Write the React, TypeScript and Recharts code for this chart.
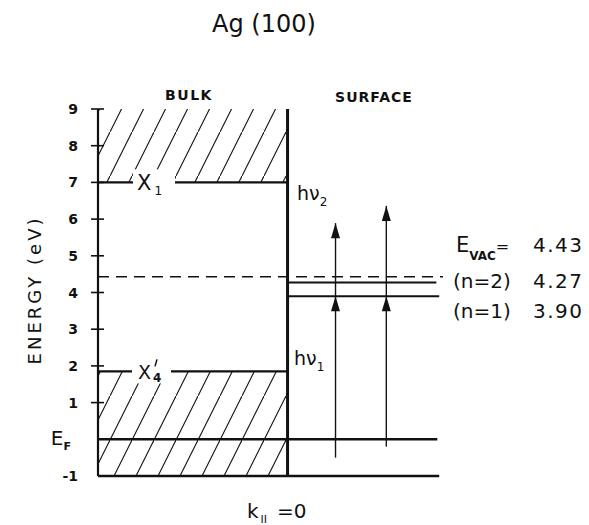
import React from "react";
import { ComposedChart, Line, XAxis, YAxis, ReferenceLine, ReferenceArea } from "recharts";

// energy axis (eV)
const energyTicks = [-1, 0, 1, 2, 3, 4, 5, 6, 7, 8, 9];
// k-axis: bulk occupies 0..1, surface side runs on to the right
const kBulkEdge = 1;
const kMax = 1.82;
const kLevelEnds = [1.79, 1.8]; // E_F, band bottom
const kImageEnds = [1.785, 1.8]; // n=2, n=1

const bulkGapBands = [
  { from: 7, to: 9 },
  { from: -1, to: 1.85 },
];
const levelX1 = 7;
const levelX4 = 1.85;
const fermi = 0;
const bandBottom = -1;
const vacuum = 4.43;
const imageStates = [4.27, 3.9]; // n=2, n=1
const imageLabels = ["(n=2)", "(n=1)"];

// two-photon arrows: start, intermediate (n=1), final
const arrowK = [1.253, 1.521];
const arrowStart = [-0.5, -0.2];
const arrowTop = [5.89, 6.36];

const ink = "#111";
const font = "'DejaVu Sans', sans-serif";

function ArrowHead(props: any) {
  const { cx, cy, index } = props;
  if (index !== 1 || cx == null) return <g key={`h-${index}`} />;
  return (
    <path
      key={`h-${index}`}
      d={`M${cx},${cy} L${cx - 4.5},${cy + 15} L${cx + 4.5},${cy + 15} Z`}
      fill={ink}
    />
  );
}

function EnergyTick(props: any) {
  const { x, y, payload } = props;
  const v = payload.value;
  const axisX = x + 18;
  return (
    <g>
      {v > -1 && v !== 0 && (
        <line x1={axisX - 7} x2={axisX + 6} y1={y} y2={y} stroke={ink} strokeWidth={1.6} />
      )}
      {v === 0 ? (
        <text x={x - 9} y={y + 6} textAnchor="end" fontSize={20} fill={ink} fontFamily={font}>
          E<tspan fontSize={11} fontWeight="bold" dy={5}>F</tspan>
        </text>
      ) : (
        <text x={x - 2} y={y + 5} textAnchor="end" fontSize={14} fontWeight="bold" fill={ink} fontFamily={font}>
          {v}
        </text>
      )}
    </g>
  );
}

function X1Label(props: any) {
  const { viewBox } = props;
  const x = viewBox.x;
  const y = viewBox.y;
  return (
    <g>
      <rect x={x + 35} y={y - 13} width={42} height={26} fill="#fff" />
      <text x={x + 39} y={y + 8} fontSize={21} fill={ink} fontFamily={font}>
        X<tspan fontSize={12} dy={5} dx={3}>1</tspan>
      </text>
    </g>
  );
}

function X4Label(props: any) {
  const { viewBox } = props;
  const x = viewBox.x;
  const y = viewBox.y;
  return (
    <g fill={ink} fontFamily={font}>
      <rect x={x + 34} y={y - 14} width={39} height={26} fill="#fff" />
      <text x={x + 40} y={y + 8} fontSize={19}>
        X
      </text>
      <text x={x + 55} y={y + 11} fontSize={12} fontWeight="bold">
        4
      </text>
      <line x1={x + 59} y1={y - 12} x2={x + 57} y2={y - 5} stroke={ink} strokeWidth={1.5} />
    </g>
  );
}

export default function App() {
  const arrowSeries = arrowK.flatMap((k, i) => [
    [
      { k, e: arrowStart[i] },
      { k, e: imageStates[1] },
    ],
    [
      { k, e: imageStates[1] },
      { k, e: arrowTop[i] },
    ],
  ]);

  return (
    <div style={{ position: "absolute", left: 0, top: 0, background: "#fff" }}>
      <ComposedChart width={589} height={525} margin={{ top: 109, right: 146, bottom: 49, left: 38 }}>
        <defs>
          <pattern id="hatch" width={22} height={44} patternUnits="userSpaceOnUse">
            <line x1={-1} y1={46} x2={23} y2={-2} stroke={ink} strokeWidth={1.1} />
          </pattern>
        </defs>
        <XAxis type="number" dataKey="k" domain={[0, kMax]} hide allowDataOverflow />
        <YAxis
          type="number"
          domain={[-1, 9]}
          ticks={energyTicks}
          interval={0}
          width={60}
          allowDataOverflow
          axisLine={{ stroke: ink, strokeWidth: 2.2 }}
          tickLine={false}
          tickSize={0}
          tickMargin={18}
          tick={EnergyTick}
        />

        {bulkGapBands.map((b, i) => (
          <ReferenceArea
            key={i}
            x1={0}
            x2={kBulkEdge}
            y1={b.from}
            y2={b.to}
            fill="url(#hatch)"
            fillOpacity={1}
            stroke="none"
          />
        ))}

        <ReferenceLine
          segment={[{ x: 0, y: vacuum }, { x: kMax, y: vacuum }]}
          stroke={ink}
          strokeWidth={1.4}
          strokeDasharray="11 7"
        />
        <ReferenceLine
          segment={[{ x: 0, y: levelX1 }, { x: kBulkEdge, y: levelX1 }]}
          stroke={ink}
          strokeWidth={2.2}
          label={(p: any) => <X1Label {...p} />}
        />
        <ReferenceLine
          segment={[{ x: 0, y: levelX4 }, { x: kBulkEdge, y: levelX4 }]}
          stroke={ink}
          strokeWidth={2.2}
          label={(p: any) => <X4Label {...p} />}
        />
        <ReferenceLine
          segment={[{ x: 0, y: fermi }, { x: kLevelEnds[0], y: fermi }]}
          stroke={ink}
          strokeWidth={2.4}
        />
        <ReferenceLine
          segment={[{ x: 0, y: bandBottom }, { x: kLevelEnds[1], y: bandBottom }]}
          stroke={ink}
          strokeWidth={2.4}
        />
        {imageStates.map((e, i) => (
          <ReferenceLine
            key={`img-${i}`}
            segment={[{ x: kBulkEdge, y: e }, { x: kImageEnds[i], y: e }]}
            stroke={ink}
            strokeWidth={2}
          />
        ))}
        <ReferenceLine x={kBulkEdge} stroke={ink} strokeWidth={3} />

        {arrowSeries.map((d, i) => (
          <Line
            key={`arrow-${i}`}
            data={d}
            dataKey="e"
            type="linear"
            stroke={ink}
            strokeWidth={1.4}
            dot={ArrowHead}
            activeDot={false}
            isAnimationActive={false}
          />
        ))}

        <g fontFamily={font} fill={ink}>
          <text x={264} y={32} textAnchor="middle" fontSize={24}>
            Ag (100)
          </text>
          <text x={189} y={100} textAnchor="middle" fontSize={14} fontWeight="bold" letterSpacing={1.5}>
            BULK
          </text>
          <text x={374} y={102} textAnchor="middle" fontSize={14} fontWeight="bold" letterSpacing={1}>
            SURFACE
          </text>
          <text
            x={34}
            y={290}
            textAnchor="middle"
            dominantBaseline="central"
            fontSize={18}
            letterSpacing={3}
            transform="rotate(-90 34 290)"
          >
            ENERGY (eV)
          </text>
          <text x={297} y={200} fontSize={19}>
            hν<tspan fontSize={12} dy={6}>2</tspan>
          </text>
          <text x={294} y={365} fontSize={19}>
            hν<tspan fontSize={12} dy={6}>1</tspan>
          </text>
          <text x={456} y={252} fontSize={21}>
            E<tspan fontSize={12} fontWeight="bold" dy={8}>VAC</tspan>
            <tspan dy={-8} fontSize={16}>=</tspan>
          </text>
          <text x={533} y={252} fontSize={20} letterSpacing={1.5}>
            {vacuum.toFixed(2)}
          </text>
          {imageStates.map((e, i) => (
            <g key={`lab-${i}`}>
              <text x={453} y={288 + i * 30} fontSize={20}>
                {imageLabels[i]}
              </text>
              <text x={533} y={288 + i * 30} fontSize={20} letterSpacing={1.5}>
                {e.toFixed(2)}
              </text>
            </g>
          ))}
          <text x={247} y={518} fontSize={20}>
            k<tspan fontSize={11} dy={5} dx={2}>II</tspan>
            <tspan dy={-5} dx={10}>=0</tspan>
          </text>
        </g>
      </ComposedChart>
    </div>
  );
}
